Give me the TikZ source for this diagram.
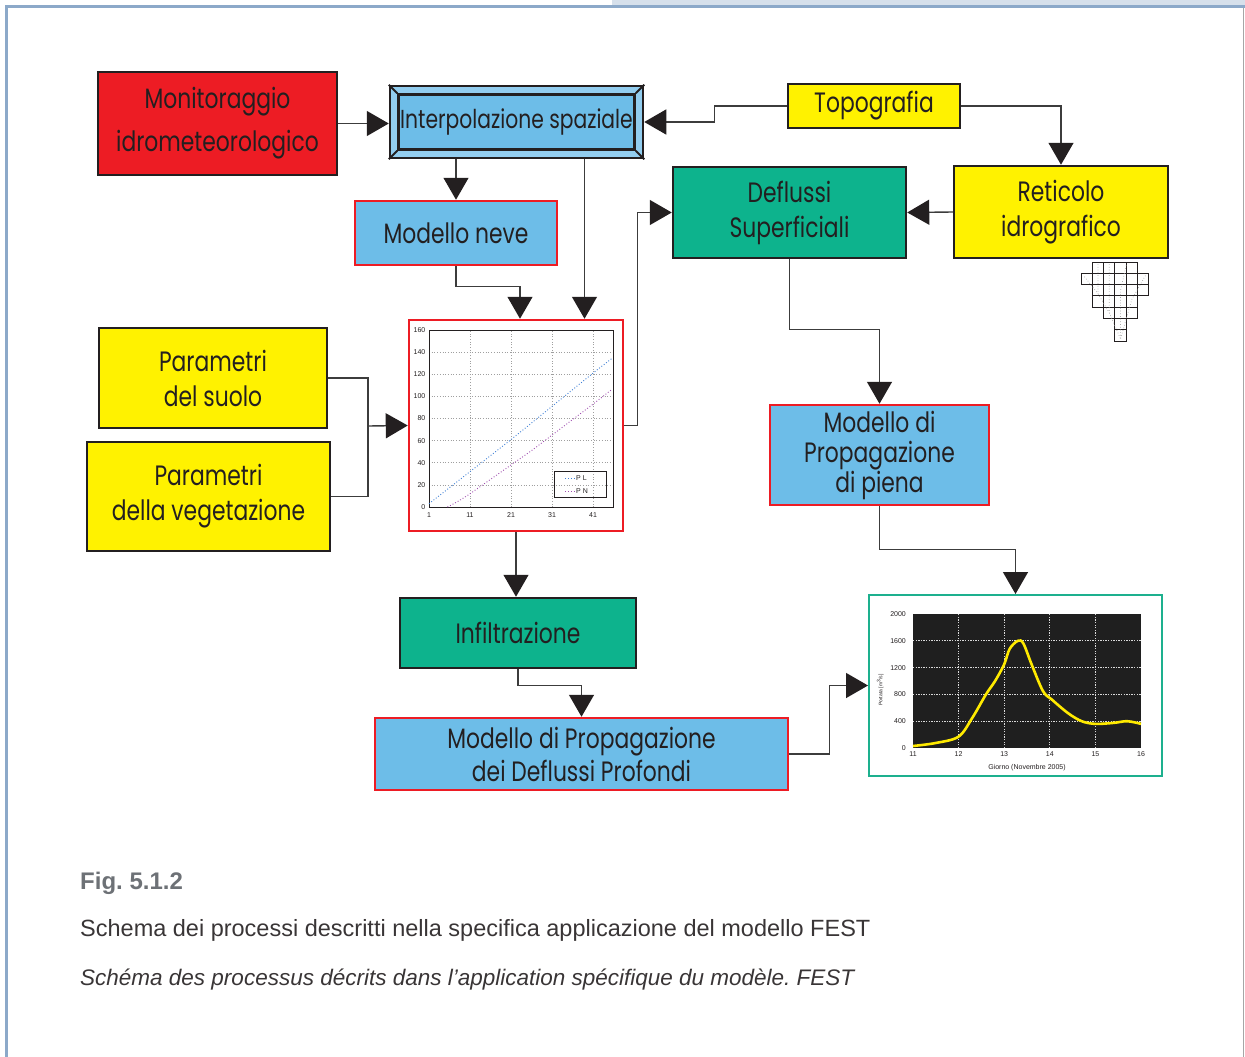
\documentclass[tikz,border=0pt]{standalone}
\usepackage{fontspec}
\usepackage{tikz}
\usetikzlibrary{arrows.meta,positioning}
\setmainfont{Liberation Sans}
\newfontfamily\boxfont[FakeStretch=0.78]{Poppins}
\newfontfamily\tickfont{Liberation Sans}
\frenchspacing
\definecolor{fsRed}{HTML}{ED1C24}
\definecolor{fsBlue}{HTML}{6DBDE8}
\definecolor{fsBand}{HTML}{92CDEF}
\definecolor{fsYellow}{HTML}{FFF200}
\definecolor{fsGreen}{HTML}{0DB38D}
\definecolor{fsInk}{HTML}{231F20}
\definecolor{fsLine}{HTML}{3C3C3C}
\definecolor{fsFrame}{HTML}{8CA9C9}
\definecolor{fsTab}{HTML}{D6E0EB}
\definecolor{fsCap}{HTML}{6D7176}
\definecolor{fsPL}{HTML}{3D7FD6}
\definecolor{fsPN}{HTML}{A04FB0}
\definecolor{fsHydro}{HTML}{FFEA00}
\definecolor{fsTeal}{HTML}{1DB08E}

\begin{document}
\begin{tikzpicture}[
  x=1pt, y=-1pt,
  >={Triangle[length=22pt, width=25pt, color=fsInk]},
  box/.style={
    rectangle,
    draw=fsInk,
    line width=2.5pt,
    inner sep=0pt,
    align=center,
    text=fsInk,
    font=\boxfont\fontsize{28}{35}\selectfont
  },
  yellowbox/.style={box, fill=fsYellow},
  greenbox/.style={box, fill=fsGreen},
  modelbox/.style={box, fill=fsBlue, draw=fsRed},
  conn/.style={->, line width=1.4pt, draw=fsLine},
  wire/.style={line width=1.4pt, draw=fsLine},
  ticklab/.style={font=\tickfont\fontsize{7}{8}\selectfont, text=fsInk, inner sep=1pt},
  cgrid/.style={gray!75, line width=0.7pt, dotted},
  hgrid/.style={white!85!black, line width=1.3pt, dash pattern=on 1.3pt off 1.3pt},
  caption/.style={anchor=base west, inner sep=0pt, font=\fontsize{23.5}{28}\selectfont}
]
  \useasboundingbox (0,0) rectangle (1245,1057);

  % page frame
  \fill[fsTab] (612,0) rectangle (1245,5);
  \fill[fsFrame] (5,5) rectangle (1245,8);
  \fill[fsFrame] (5,5) rectangle (7.5,1057);
  \draw[gray!70, line width=0.8pt] (1243,8) -- (1243,1057);

  % boxes
  \node[box, fill=fsRed, minimum width=239pt, minimum height=103pt] (mon) at (217.5,123.5)
    {Monitoraggio\\[8pt]idrometeorologico};
  \node[box, fill=fsBand, minimum width=253pt, minimum height=72pt] (interp) at (516.5,122) {};
  \node[box, fill=fsBlue, minimum width=236pt, minimum height=55pt,
    font=\boxfont\fontsize{26}{30}\selectfont] (interpin)
    at (interp.center) {Interpolazione spaziale};
  \draw[fsInk, line width=2pt] (interp.north west) -- (interpin.north west)
    (interp.north east) -- (interpin.north east)
    (interp.south west) -- (interpin.south west)
    (interp.south east) -- (interpin.south east);
  \node[yellowbox, minimum width=172pt, minimum height=44pt] (topo) at (874,106) {Topografia};
  \node[yellowbox, minimum width=214pt, minimum height=92pt] (retic) at (1061,212)
    {Reticolo\\idrografico};
  \node[greenbox, minimum width=233pt, minimum height=91pt] (defl) at (789.5,212.5)
    {Deflussi\\Superficiali};
  \node[modelbox, minimum width=202pt, minimum height=64pt] (neve) at (456,233) {Modello neve};
  \node[box, fill=white, draw=fsRed, minimum width=214pt, minimum height=211pt] (chart)
    at (516,425.5) {};
  \node[yellowbox, minimum width=228pt, minimum height=100pt] (suolo) at (213,378)
    {Parametri\\del suolo};
  \node[yellowbox, minimum width=243pt, minimum height=109pt] (veget) at (208.5,496.5)
    {Parametri\\della vegetazione};
  \node[modelbox, minimum width=219pt, minimum height=100pt] (piena) at (879.5,455)
    {Modello di\\[-5pt]Propagazione\\[-5pt]di piena};
  \node[greenbox, minimum width=236pt, minimum height=70pt] (infil) at (518,633) {Infiltrazione};
  \node[modelbox, minimum width=413pt, minimum height=72pt] (prof) at (581.5,754)
    {Modello di Propagazione\\[-2pt]dei Deflussi Profondi};
  \node[box, fill=white, draw=fsTeal, line width=2pt, minimum width=293pt, minimum height=181pt]
    (hydro) at (1015.5,685.5) {};

  % connectors
  \draw[conn] (mon.east) -- (mon.east -| interp.west);
  \draw[conn] (topo.west) -- ++(-72,0) |- (interp.east);
  \draw[conn] (topo.east) -| (retic.north);
  \draw[conn] (interp.south -| neve.north) -- (neve.north);
  \coordinate (ichart) at ([xshift=68pt]interp.south);
  \draw[conn] (ichart) -- (ichart |- chart.north);
  \draw[conn] (neve.south) -- ++(0,20) -| ([xshift=4pt]chart.north);
  \coordinate (jn) at (368,426);
  \draw[wire] (suolo.east) -| (jn) |- (veget.east);
  \draw[conn] (jn) -- (chart.west);
  \draw[conn] (chart.east) -- ++(13,0) |- (defl.west);
  \draw[conn] (retic.west) -- (defl.east);
  \draw[conn] (defl.south) -- ++(0,70) -| (piena.north);
  \draw[conn] (piena.south) -- ++(0,43) -| (hydro.north);
  \draw[conn] (chart.south) -- (chart.south |- infil.north);
  \draw[conn] (infil.south) -- ++(0,16) -| (prof.north);
  \draw[conn] (prof.east) -- ++(40,0) |- (hydro.west);

  % precipitation chart
  \begin{scope}[shift={(424.9,507)}, x=4.1pt, y=1.106pt]
    \foreach \v in {11,21,31,41} \draw[cgrid] (\v,0) -- (\v,160);
    \foreach \h in {20,40,...,140} \draw[cgrid] (1,\h) -- (45.9,\h);
    \draw[fsInk, line width=0.9pt] (1,0) rectangle (45.9,160);
    \draw[fsPL, line width=0.9pt, dotted] plot[smooth] coordinates
      {(1,3) (11,32) (21,61) (31,91) (41,121) (45.5,134)};
    \draw[fsPN, line width=0.9pt, dotted] plot[smooth] coordinates
      {(5.5,0) (8,5) (11,12) (16,25) (21,38) (26,51) (31,65) (36,79) (41,93) (45.5,106)};
    \foreach \h in {0,20,...,160} \node[ticklab, anchor=east] at (0.4,\h) {\h};
    \foreach \v in {1,11,21,31,41} \node[ticklab, anchor=north] at (\v,-4) {\v};
    \draw[fsInk, line width=0.8pt] (31.7,32.5) rectangle (44.2,9);
    \draw[fsPL, line width=0.9pt, dotted] (34.2,26.2) -- (36.4,26.2);
    \node[ticklab, anchor=west] at (36.6,26.2) {P L};
    \draw[fsPN, line width=0.9pt, dotted] (34.2,14.5) -- (36.4,14.5);
    \node[ticklab, anchor=west] at (36.6,14.5) {P N};
  \end{scope}

  % hydrograph
  \begin{scope}[shift={(411.4,748)}, x=45.6pt, y=0.067pt]
    \fill[black!88] (11,0) rectangle (16,2000);
    \foreach \d in {12,...,15} \draw[hgrid] (\d,0) -- (\d,2000);
    \foreach \q in {400,800,1200,1600} \draw[hgrid] (11,\q) -- (16,\q);
    \draw[fsHydro, line width=2.6pt] plot[smooth, tension=0.55] coordinates
      {(11,30) (11.5,75) (12,170) (12.3,450) (12.6,800) (12.8,1000) (13,1250) (13.12,1480)
       (13.3,1600) (13.42,1560) (13.6,1250) (13.85,850) (14.05,720) (14.4,520) (14.7,400)
       (15,360) (15.4,375) (15.7,400) (16,360)};
    \foreach \q in {0,400,...,2000} \node[ticklab, anchor=east] at (10.87,\q) {\q};
    \foreach \d in {11,...,16} \node[ticklab, anchor=north] at (\d,-40) {\d};
    \node[ticklab] at (13.5,-300) {Giorno (Novembre 2005)};
    \node[ticklab, rotate=90, font=\tickfont\fontsize{5}{6}\selectfont] at (10.28,865)
      {Portata [m\textsuperscript{3}/s]};
  \end{scope}

  % drainage grid icon
  \begin{scope}[shift={(1081,262)}, x=11.3pt, y=-11.3pt]
    \foreach \r/\a/\b in {0/1/4, 1/0/5, 2/1/5, 3/1/4, 4/2/4, 5/3/3, 6/3/3}
      \foreach \c in {\a,...,\b} \draw[fsInk, line width=0.9pt] (\c,\r) rectangle ++(1,1);
    \draw[gray!70, line width=0.7pt, dotted] (1.5,0.2) -- (1.5,2.8) -- (2.5,4.5)
      (2.5,0.2) -- (2.5,4.5) -- (3.5,6.8)
      (4,0.3) -- (3.5,2.5) -- (3.5,6.8)
      (0.3,1.3) -- (1.5,2.8)
      (5.7,1.2) -- (4.5,3.3) -- (3.5,6.8);
  \end{scope}

  % caption
  \node[caption, font=\bfseries\fontsize{24}{28}\selectfont, text=fsCap] (figno) at (80,889) {Fig. 5.1.2};
  \node[caption, text=fsInk!90] (capit) at (80,936)
    {Schema dei processi descritti nella specifica applicazione del modello FEST};
  \node[caption, text=fsInk!90, font=\itshape\fontsize{22.5}{27}\selectfont] (capfr) at (80,985)
    {Schéma des processus décrits dans l’application spécifique du modèle. FEST};
\end{tikzpicture}
\end{document}
